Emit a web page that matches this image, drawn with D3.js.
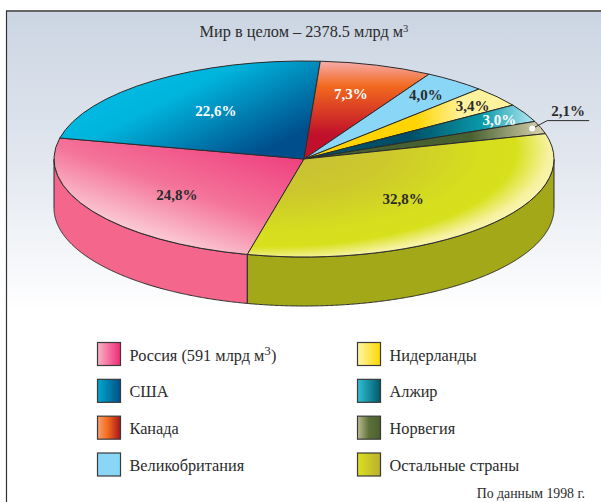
<!DOCTYPE html>
<html>
<head>
<meta charset="utf-8">
<script src="https://cdn.jsdelivr.net/npm/d3@7"></script>
<style>
    html, body { margin: 0; padding: 0; background: #fff; }
    svg { display: block; }
    text { font-family: "Liberation Serif", serif; fill: #2b2b2b; }
</style>
</head>
<body>
<script>
'use strict';

var titleText = "Мир в целом – 2378.5 млрд м³";
var sourceText = "По данным 1998 г.";
var names = ["Россия (591 млрд м³)", "США", "Канада", "Великобритания", "Нидерланды", "Алжир", "Норвегия", "Остальные страны"];
var shares = [24.8, 22.6, 7.3, 4.0, 3.4, 3.0, 2.1, 32.8];
var shareLabels = ["24,8%", "22,6%", "7,3%", "4,0%", "3,4%", "3,0%", "2,1%", "32,8%"];

var width = 601;
var height = 502;
var cx = 304;
var cy = 159;
var radius = 250;
var squash = 98 / 250;
var depth = 49;
var pieStart = -166.9 * Math.PI / 180;

// distance of each label from the pie centre, before squashing
var labelRadius = [154, 150, 168, 200, 217, 220, 241, 138];
// small hand corrections on top of that
var labelShift = [[3, 4], [2, -1], [-2, -2], [1, -2], [1, 1], [1, 1], [0, 0], [0, 2]];
var labelColor = ["#2b2b2b", "#fff", "#fff", "#2b2b2b", "#2b2b2b", "#fff", "#2b2b2b", "#2b2b2b"];
var sideColor = ["#f4668c", "#f4668c", "#f4668c", "#f4668c", "#f4668c", "#f4668c", "#f4668c", "#a2a818"];

// top face gradients, coordinates are page pixels
var faceFill = [
    { x1: 172, y1: 245, x2: 215, y2: 120, stops: [[0, "#fbccd6"], [0.42, "#f4749a"], [1, "#ee3a7c"]] },
    { x1: 150, y1: 85, x2: 200, y2: 183, stops: [[0, "#00b8e0"], [0.2, "#00b4dc"], [1, "#004f8c"]] },
    { x1: 350, y1: 62, x2: 350, y2: 135, stops: [[0, "#f7aaa8"], [0.33, "#f2691e"], [1, "#c0102c"]] },
    { x1: 0, y1: 0, x2: 1, y2: 0, stops: [[0, "#8ad6f7"], [1, "#8ad6f7"]] },
    { x1: 415, y1: 0, x2: 462, y2: 0, stops: [[0, "#ffd400"], [1, "#fff29c"]] },
    { x1: 410, y1: 0, x2: 530, y2: 0, stops: [[0, "#004f66"], [0.6, "#0a9aa8"], [1, "#a6e2ef"]] },
    { x1: 470, y1: 0, x2: 540, y2: 0, stops: [[0, "#47602f"], [1, "#d2cca8"]] },
    null
];
var swatchFill = [
    [[0, "#f8b4c4"], [1, "#ee2a78"]],
    [[0, "#00a8d0"], [1, "#004f86"]],
    [[0, "#f9a070"], [0.45, "#f26a1c"], [1, "#a8141e"]],
    [[0, "#8ad6f7"], [1, "#8ad6f7"]],
    [[0, "#fff5a8"], [1, "#ffd800"]],
    [[0, "#30c0d8"], [1, "#005a68"]],
    [[0, "#c0bc90"], [0.5, "#5c7038"], [1, "#4a6030"]],
    [[0, "#dcdf20"], [1, "#b8b030"]]
];

var svg = d3.select("body").append("svg")
    .attr("width", width)
    .attr("height", height);

var defs = svg.append("defs");

function addStops(grad, stops) {
    grad.selectAll("stop")
        .data(stops)
        .enter().append("stop")
        .attr("offset", function(d) { return d[0]; })
        .attr("stop-color", function(d) { return d[1]; });
}

var bgGrad = defs.append("linearGradient")
    .attr("id", "bg")
    .attr("x1", 0).attr("y1", 0).attr("x2", 0).attr("y2", 1);
addStops(bgGrad, [[0, "#cbd5e2"], [0.5, "#e2e7ef"], [1, "#ffffff"]]);

faceFill.forEach(function(f, i) {
    if (!f) return;
    var grad = defs.append("linearGradient")
        .attr("id", "face" + i)
        .attr("gradientUnits", "userSpaceOnUse")
        .attr("gradientTransform", "scale(1," + (1 / squash) + ") translate(" + (-cx) + "," + (-cy) + ")")
        .attr("x1", f.x1).attr("y1", f.y1).attr("x2", f.x2).attr("y2", f.y2);
    addStops(grad, f.stops);
});

// the big yellow slice goes pale along the rim, so it gets an elliptical gradient
var otherGrad = defs.append("radialGradient")
    .attr("id", "face7")
    .attr("gradientUnits", "userSpaceOnUse")
    .attr("cx", -34).attr("cy", -23).attr("r", 300);
addStops(otherGrad, [[0, "#c8bd38"], [0.4, "#cdc92c"], [0.7, "#d6de1e"], [0.82, "#d8e01c"], [0.93, "#f6f2a0"], [1, "#fdf6b8"]]);

swatchFill.forEach(function(stops, i) {
    var grad = defs.append("linearGradient")
        .attr("id", "swatch" + i)
        .attr("x1", 0).attr("y1", 0).attr("x2", 1).attr("y2", 0);
    addStops(grad, stops);
});

// panel
svg.append("rect")
    .attr("x", 6).attr("y", 11)
    .attr("width", width - 6).attr("height", 300)
    .attr("fill", "url(#bg)");
svg.append("line")
    .attr("x1", 6).attr("y1", 11).attr("x2", width).attr("y2", 11)
    .attr("stroke", "#666").attr("stroke-width", 2);
svg.append("line")
    .attr("x1", 6.5).attr("y1", 11).attr("x2", 6.5).attr("y2", height)
    .attr("stroke", "#333").attr("stroke-width", 1.2);

function addWithCube(sel, str, supSize) {
    var parts = str.split("³");
    sel.append("tspan").text(parts[0]);
    if (parts.length > 1) {
        sel.append("tspan").attr("dy", "-0.45em").attr("font-size", supSize + "em").text("3");
        if (parts[1]) sel.append("tspan").attr("dy", (0.45 * supSize) + "em").text(parts[1]);
    }
}

var title = svg.append("text")
    .attr("x", 304).attr("y", 37)
    .attr("text-anchor", "middle")
    .attr("font-size", 16.3);
addWithCube(title, titleText, 0.65);

var pie = d3.pie()
    .sort(null)
    .startAngle(pieStart)
    .endAngle(pieStart + 2 * Math.PI);
var arcs = pie(shares);

var arc = d3.arc()
    .innerRadius(0)
    .outerRadius(radius);

var rimX = function(a) { return cx + radius * Math.sin(a); };
var rimY = function(a) { return cy - radius * squash * Math.cos(a); };

var side = d3.area()
    .x(rimX)
    .y0(rimY)
    .y1(function(a) { return rimY(a) + depth; });

// only the front half of the wall can be seen
svg.append("g").selectAll("path")
    .data(arcs)
    .enter().append("path")
    .attr("d", function(d) {
        var angles = d3.range(d.startAngle, d.endAngle, 0.005).concat(d.endAngle)
            .filter(function(a) { return Math.cos(a) <= 0; });
        return angles.length ? side(angles) : null;
    })
    .attr("fill", function(d, i) { return sideColor[i]; })
    .attr("stroke", "#2b2b2b")
    .attr("stroke-width", 1);

var pieG = svg.append("g")
    .attr("transform", "translate(" + cx + "," + cy + ") scale(1," + squash + ")");

pieG.selectAll("path")
    .data(arcs)
    .enter().append("path")
    .attr("d", arc)
    .attr("fill", function(d, i) { return "url(#face" + i + ")"; })
    .attr("stroke", "#2b2b2b")
    .attr("stroke-width", 1)
    .attr("vector-effect", "non-scaling-stroke");

function labelPoint(d, i) {
    var c = d3.arc().innerRadius(labelRadius[i]).outerRadius(labelRadius[i]).centroid(d);
    return [cx + c[0] + labelShift[i][0], cy + c[1] * squash + labelShift[i][1]];
}

var norway = 6;
var dot = labelPoint(arcs[norway], norway);

svg.append("polyline")
    .attr("points", [dot, [dot[0] + 15, dot[1] - 8], [dot[0] + 57, dot[1] - 8]].join(" "))
    .attr("fill", "none")
    .attr("stroke", "#2b2b2b")
    .attr("stroke-width", 1);
svg.append("circle")
    .attr("cx", dot[0]).attr("cy", dot[1]).attr("r", 3)
    .attr("fill", "#fff");

svg.append("g").selectAll("text")
    .data(arcs)
    .enter().append("text")
    .attr("text-anchor", "middle")
    .attr("font-size", 15)
    .attr("font-weight", "bold")
    .attr("x", function(d, i) { return i === norway ? dot[0] + 36 : labelPoint(d, i)[0]; })
    .attr("y", function(d, i) { return i === norway ? dot[1] - 13 : labelPoint(d, i)[1] + 5; })
    .style("fill", function(d, i) { return labelColor[i]; })
    .text(function(d, i) { return shareLabels[i]; });

// legend, two columns of four
var rowScale = d3.scalePoint().domain(d3.range(4)).range([342, 452.5]);
var colScale = d3.scalePoint().domain(d3.range(2)).range([97, 357]);

var legend = svg.append("g").selectAll("g")
    .data(names)
    .enter().append("g")
    .attr("transform", function(d, i) {
        return "translate(" + colScale(Math.floor(i / 4)) + "," + rowScale(i % 4) + ")";
    });

legend.append("rect")
    .attr("x", 0.5).attr("y", 0.5)
    .attr("width", 23).attr("height", 23)
    .attr("fill", function(d, i) { return "url(#swatch" + i + ")"; })
    .attr("stroke", "#3a3a3a")
    .attr("stroke-width", 1.2);

legend.append("text")
    .attr("x", 32.5)
    .attr("y", 18.5)
    .attr("font-size", 16.3)
    .each(function(d) { addWithCube(d3.select(this), d, 0.8); });

svg.append("text")
    .attr("x", 585).attr("y", 498)
    .attr("text-anchor", "end")
    .attr("font-size", 13.8)
    .text(sourceText);
</script>
</body>
</html>
